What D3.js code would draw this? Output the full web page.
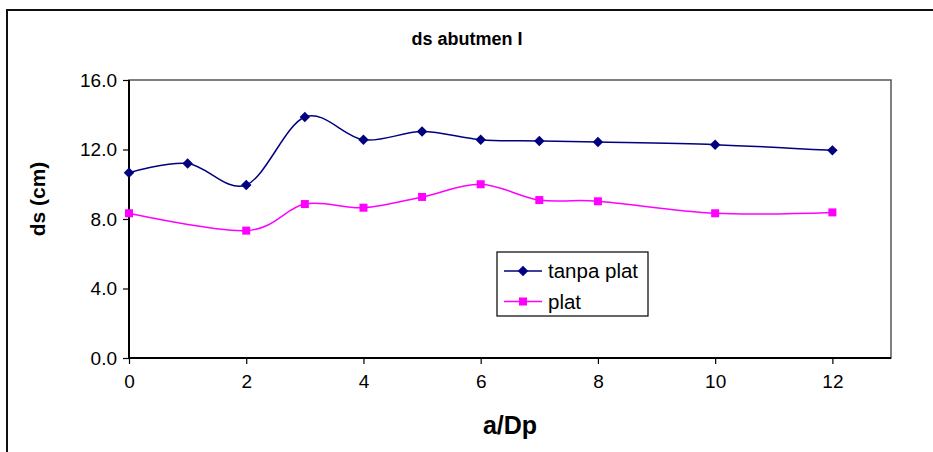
<!DOCTYPE html>
<html>
<head>
<meta charset="utf-8">
<script src="https://cdn.jsdelivr.net/npm/d3@7"></script>
<style>
  html, body { margin: 0; padding: 0; background: #fff; }
  svg { display: block; font-family: "Liberation Sans", Arial, sans-serif; }
</style>
</head>
<body>
<svg id="chart" width="933" height="452"></svg>
<script>
// Scour depth at abutment I versus a/Dp, with and without plate
const titleText = "ds abutmen I";
const xLabel = "a/Dp";
const yLabel = "ds (cm)";

const tanpaX = [0, 1, 2, 3, 4, 5, 6, 7, 8, 10, 12];
const tanpaY = [10.66, 11.2, 9.96, 13.87, 12.56, 13.03, 12.56, 12.49, 12.43, 12.28, 11.95];

const platX = [0, 2, 3, 4, 5, 6, 7, 8, 10, 12];
const platY = [8.33, 7.33, 8.86, 8.65, 9.27, 10.0, 9.09, 9.02, 8.33, 8.38];

const xTicks = [0, 2, 4, 6, 8, 10, 12];
const yTicks = [0, 4, 8, 12, 16];
const seriesNames = ["tanpa plat", "plat"];
const seriesColors = ["#000080", "#ff00ff"];

const svg = d3.select("#chart");
const plot = { left: 129, right: 891, top: 80, bottom: 358 };

const x = d3.scaleLinear().domain([0, 13]).range([plot.left, plot.right]);
const y = d3.scaleLinear().domain([0, 16]).range([plot.bottom, plot.top]);

// outer chart frame (top and left edges visible)
svg.append("path")
  .attr("d", "M7,452 L7,10 L933,10")
  .attr("fill", "none").attr("stroke", "#111").attr("stroke-width", 2);

// title
svg.append("text")
  .attr("x", 467).attr("y", 45)
  .attr("text-anchor", "middle")
  .attr("font-size", 18).attr("font-weight", "bold")
  .text(titleText);

// plot area border
svg.append("rect")
  .attr("x", plot.left).attr("y", plot.top)
  .attr("width", plot.right - plot.left).attr("height", plot.bottom - plot.top)
  .attr("fill", "none").attr("stroke", "#555").attr("stroke-width", 1.5);

// axes
const xAxis = svg.append("g")
  .attr("transform", `translate(0,${plot.bottom})`)
  .call(d3.axisBottom(x).tickValues(xTicks).tickSize(6).tickPadding(11).tickFormat(d3.format("d")));
const yAxis = svg.append("g")
  .attr("transform", `translate(${plot.left},0)`)
  .call(d3.axisLeft(y).tickValues(yTicks).tickSize(6).tickPadding(6).tickFormat(d3.format(".1f")));

[xAxis, yAxis].forEach(g => {
  g.select(".domain").attr("stroke", "#000").attr("stroke-width", 2);
  g.selectAll(".tick line").attr("stroke", "#000").attr("stroke-width", 1.2);
  g.selectAll(".tick text")
    .attr("fill", "#000")
    .attr("font-size", 19)
    .attr("font-family", "Liberation Sans, Arial, sans-serif");
});
// keep the x domain line spanning the full plot width
xAxis.select(".domain").attr("d", `M${plot.left},0H${plot.right}`);
yAxis.select(".domain").attr("d", `M0,${plot.bottom}V${plot.top}`);

// axis titles
svg.append("text")
  .attr("x", 510).attr("y", 434)
  .attr("text-anchor", "middle")
  .attr("font-size", 25).attr("font-weight", "bold")
  .text(xLabel);
svg.append("text")
  .attr("transform", "translate(45,199) rotate(-90)")
  .attr("text-anchor", "middle")
  .attr("font-size", 21).attr("font-weight", "bold")
  .text(yLabel);

// series
const line = d3.line()
  .x(d => x(d[0])).y(d => y(d[1]))
  .curve(d3.curveCatmullRom.alpha(0));

const diamond = d3.symbol().type(d3.symbolDiamond2).size(70);
const square = d3.symbol().type(d3.symbolSquare).size(64);

const series = [
  { pts: d3.zip(tanpaX, tanpaY), color: seriesColors[0], sym: diamond },
  { pts: d3.zip(platX, platY), color: seriesColors[1], sym: square }
];

series.forEach(s => {
  svg.append("path")
    .datum(s.pts)
    .attr("d", line)
    .attr("fill", "none")
    .attr("stroke", s.color)
    .attr("stroke-width", 1.5);
  svg.append("g").selectAll("path")
    .data(s.pts)
    .join("path")
    .attr("transform", d => `translate(${x(d[0])},${y(d[1])})`)
    .attr("d", s.sym())
    .attr("fill", s.color);
});

// legend
const legend = svg.append("g");
legend.append("rect")
  .attr("x", 497).attr("y", 252)
  .attr("width", 151).attr("height", 64)
  .attr("fill", "#fff").attr("stroke", "#000").attr("stroke-width", 1.2);
series.forEach((s, i) => {
  const ly = 271 + i * 30.5;
  legend.append("line")
    .attr("x1", 504).attr("x2", 542).attr("y1", ly).attr("y2", ly)
    .attr("stroke", s.color).attr("stroke-width", 1.5);
  legend.append("path")
    .attr("transform", `translate(523,${ly})`)
    .attr("d", s.sym())
    .attr("fill", s.color);
  legend.append("text")
    .attr("x", 548).attr("y", ly + 7)
    .attr("font-size", 20.5)
    .text(seriesNames[i]);
});
</script>
</body>
</html>
